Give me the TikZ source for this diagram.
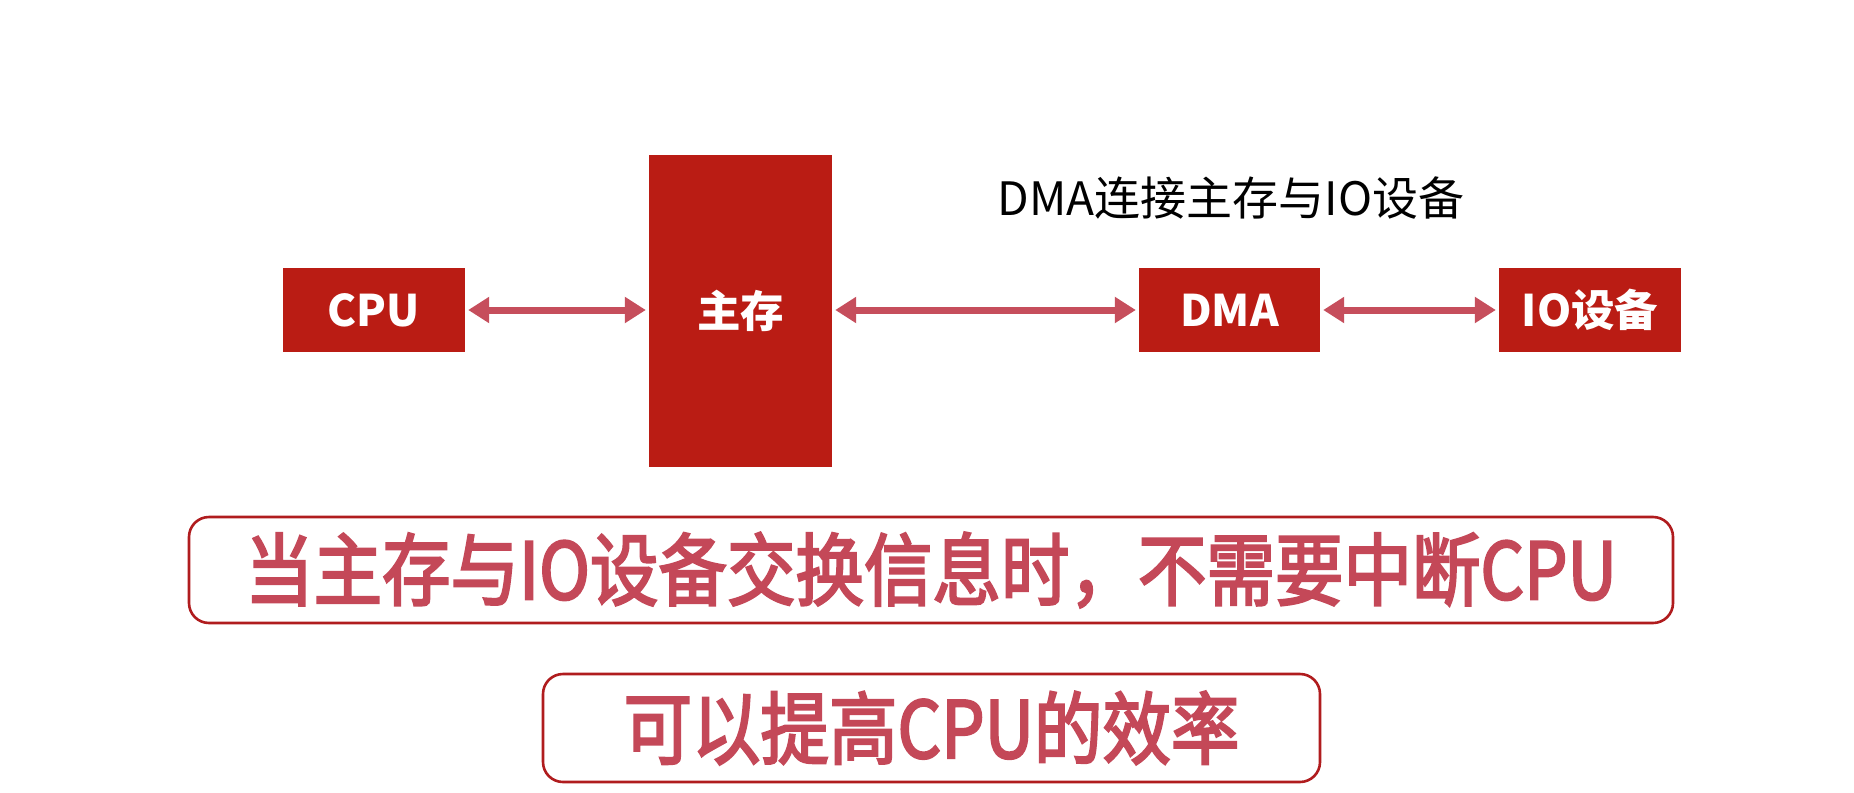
\documentclass[tikz,border=0pt]{standalone}
\usepackage{fontspec}
\usepackage{graphicx}
\usetikzlibrary{arrows.meta}
\newfontfamily\cjk{Noto Sans CJK SC}
\newfontfamily\cjkmid{Noto Sans CJK SC}[FakeBold=3]
\definecolor{boxred}{RGB}{186,28,20}
\definecolor{arrred}{RGB}{198,78,92}
\definecolor{txtred}{RGB}{196,72,88}
\definecolor{edgered}{RGB}{176,28,30}
\tikzset{
  unit/.style={fill=boxred, draw=none, inner sep=0pt, text=white, font=\cjk\bfseries\fontsize{43.5}{50}\selectfont},
  link/.style={draw=arrred, line width=7pt, {Triangle[length=21pt,width=25pt]}-{Triangle[length=21pt,width=25pt]}, shorten <=3pt, shorten >=3pt},
  note/.style={draw=edgered, line width=2.6pt, rounded corners=20pt, fill=white, inner sep=0pt, text=txtred, font=\cjkmid\fontsize{68.5}{72}\selectfont},
  caption/.style={inner sep=0pt, text=black, font=\cjk\fontsize{46}{50}\selectfont}
}
\begin{document}
\begin{tikzpicture}[x=1pt,y=-1pt]
\path[use as bounding box, fill=white] (0,0) rectangle (1854,792);
\node[unit, minimum width=182pt, minimum height=84pt] (cpu) at (374,310) {CPU};
\node[unit, minimum width=183pt, minimum height=312pt] (mem) at (740.5,311) {主存};
\node[unit, minimum width=181pt, minimum height=84pt] (dma) at (1229.5,310) {DMA};
\node[unit, minimum width=182pt, minimum height=84pt] (io) at (1590,310) {IO设备};
\node[caption] (title) at (1231,198) {DMA连接主存与IO设备};
\draw[link] (cpu.east) -- (cpu.east -| mem.west);
\draw[link] (mem.east |- dma.west) -- (dma.west);
\draw[link] (dma.east) -- (io.west);
\node[note, minimum width=1484pt, minimum height=106pt] (n1) at (931,570) {\scalebox{1}[1.15]{当主存与IO设备交换信息时，不需要中断CPU}};
\node[note, minimum width=777pt, minimum height=108pt] (n2) at (931.5,728) {\scalebox{1}[1.15]{可以提高CPU的效率}};
\end{tikzpicture}
\end{document}
